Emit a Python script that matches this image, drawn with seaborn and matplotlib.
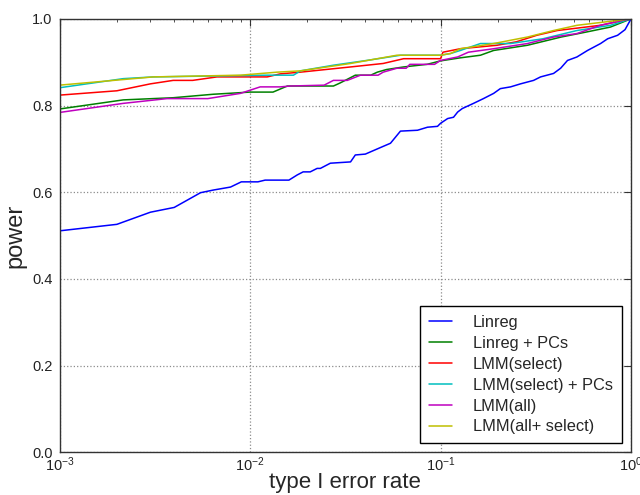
import matplotlib
matplotlib.use("Agg")
import matplotlib.pyplot as plt
import seaborn as sns
import pandas as pd
from matplotlib.ticker import LogLocator

# ---- data ----
methods = ["Linreg", "Linreg + PCs", "LMM(select)", "LMM(select) + PCs",
           "LMM(all)", "LMM(all+ select)"]
colors = ["#0000ff", "#008000", "#ff0000", "#00bfbf", "#bf00bf", "#bfbf00"]

linreg_x = [0.001, 0.002, 0.003, 0.004, 0.0055, 0.0064, 0.0079, 0.009, 0.011, 0.012,
            0.016, 0.0177, 0.019, 0.0207, 0.0225, 0.0234, 0.0264, 0.0337, 0.0357, 0.0403,
            0.0428, 0.0495, 0.0546, 0.0616, 0.0757, 0.0854, 0.0964, 0.1, 0.109, 0.117,
            0.123, 0.130, 0.149, 0.168, 0.190, 0.206, 0.233, 0.263, 0.308, 0.335,
            0.392, 0.427, 0.464, 0.52, 0.591, 0.692, 0.754, 0.85, 0.93, 0.98, 1.0]
linreg_y = [0.511, 0.526, 0.554, 0.565, 0.599, 0.605, 0.612, 0.624, 0.624, 0.628,
            0.628, 0.640, 0.647, 0.647, 0.655, 0.655, 0.667, 0.670, 0.686, 0.688,
            0.693, 0.705, 0.713, 0.741, 0.743, 0.750, 0.752, 0.759, 0.770, 0.773,
            0.785, 0.793, 0.805, 0.816, 0.828, 0.839, 0.843, 0.850, 0.858, 0.866,
            0.874, 0.886, 0.904, 0.912, 0.927, 0.943, 0.954, 0.962, 0.975, 0.993, 1.0]

linpc_x = [0.001, 0.00216, 0.00395, 0.0064, 0.01, 0.0132, 0.0157, 0.0274, 0.0297, 0.0357,
           0.043, 0.0466, 0.052, 0.064, 0.085, 0.1, 0.127, 0.162, 0.19, 0.286,
           0.43, 0.59, 0.78, 1.0]
linpc_y = [0.792, 0.813, 0.818, 0.826, 0.831, 0.831, 0.845, 0.845, 0.852, 0.870,
           0.870, 0.877, 0.883, 0.889, 0.895, 0.903, 0.910, 0.916, 0.927, 0.939,
           0.958, 0.970, 0.981, 1.0]

lmmsel_x = [0.001, 0.002, 0.003, 0.00395, 0.005, 0.0067, 0.0123, 0.0144, 0.0184, 0.0337,
            0.050, 0.064, 0.1, 0.103, 0.127, 0.198, 0.25, 0.32, 0.41, 0.69, 1.0]
lmmsel_y = [0.824, 0.834, 0.850, 0.858, 0.858, 0.866, 0.866, 0.873, 0.877, 0.889,
            0.897, 0.908, 0.908, 0.923, 0.931, 0.939, 0.947, 0.962, 0.973, 0.985, 1.0]

lmmselpc_x = [0.001, 0.00216, 0.0031, 0.0123, 0.0169, 0.0184, 0.0274, 0.041, 0.0616, 0.1,
              0.113, 0.127, 0.162, 0.233, 0.345, 0.52, 0.78, 1.0]
lmmselpc_y = [0.841, 0.862, 0.866, 0.870, 0.870, 0.880, 0.893, 0.904, 0.916, 0.916,
              0.920, 0.927, 0.943, 0.943, 0.954, 0.973, 0.985, 1.0]

lmmall_x = [0.001, 0.00216, 0.00367, 0.006, 0.0089, 0.0113, 0.0144, 0.0163, 0.0245, 0.0274,
            0.0324, 0.038, 0.047, 0.050, 0.059, 0.066, 0.069, 0.093, 0.1, 0.123,
            0.14, 0.19, 0.286, 0.392, 0.52, 0.69, 0.85, 1.0]
lmmall_y = [0.784, 0.805, 0.816, 0.816, 0.828, 0.843, 0.843, 0.845, 0.847, 0.858,
            0.858, 0.870, 0.870, 0.877, 0.886, 0.886, 0.895, 0.895, 0.904, 0.912,
            0.923, 0.931, 0.943, 0.958, 0.966, 0.985, 0.994, 1.0]

lmmallsel_x = [0.001, 0.0031, 0.0089, 0.0139, 0.0184, 0.0337, 0.059, 0.1, 0.113, 0.127,
               0.19, 0.286, 0.392, 0.52, 1.0]
lmmallsel_y = [0.847, 0.866, 0.870, 0.877, 0.880, 0.897, 0.916, 0.916, 0.920, 0.931,
               0.943, 0.958, 0.973, 0.985, 1.0]

x_ticks = [0.001, 0.01, 0.1, 1.0]
y_ticks = [0.0, 0.2, 0.4, 0.6, 0.8, 1.0]

series = [(linreg_x, linreg_y), (linpc_x, linpc_y), (lmmsel_x, lmmsel_y),
          (lmmselpc_x, lmmselpc_y), (lmmall_x, lmmall_y), (lmmallsel_x, lmmallsel_y)]
frames = []
for name, (xs, ys) in zip(methods, series):
    frames.append(pd.DataFrame({"alpha": xs, "power": ys, "method": name}))
df = pd.concat(frames, ignore_index=True)

# ---- style ----
sns.set_theme(style="white")
plt.rcParams["font.family"] = ["Liberation Sans", "DejaVu Sans"]
plt.rcParams["mathtext.fontset"] = "custom"
plt.rcParams["mathtext.rm"] = "Liberation Sans"
plt.rcParams["mathtext.it"] = "Liberation Sans:italic"

fig = plt.figure(figsize=(6.4, 4.95), dpi=100)
ax = fig.add_axes([0.093, 0.086, 0.893, 0.876])

sns.lineplot(data=df, x="alpha", y="power", hue="method", hue_order=methods,
             palette=dict(zip(methods, colors)), estimator=None, sort=False,
             units="method", linewidth=1.1, ax=ax)

ax.set_xscale("log")
ax.set_xlim(0.001, 1.0)
ax.set_ylim(0.0, 1.0)
ax.set_xticks(x_ticks)
ax.xaxis.set_minor_locator(LogLocator(base=10, subs=range(2, 10)))
ax.set_yticks(y_ticks)
ax.set_yticklabels([f"{v:.1f}" for v in y_ticks])

ax.grid(True, which="major", color="0.55", linestyle=":", linewidth=0.9)
ax.tick_params(which="both", direction="in", top=True, right=True,
               labelsize=10.5, colors="#333333", labelcolor="#222222")
ax.tick_params(which="major", length=5, width=0.8)
ax.tick_params(axis="x", which="major", pad=2)
ax.tick_params(axis="y", which="major", pad=5)
ax.tick_params(which="minor", length=2.5, width=0.6)
for s in ax.spines.values():
    s.set_color("#333333")
    s.set_linewidth(1.0)

ax.set_xlabel("type I error rate", fontsize=16, labelpad=-1)
ax.set_ylabel("power", fontsize=17, labelpad=4)

leg = ax.legend(loc="lower right", fontsize=11.8, frameon=True, fancybox=False,
                edgecolor="black", framealpha=1.0, handlelength=1.4,
                handletextpad=1.3, labelspacing=0.36, borderpad=0.55,
                borderaxespad=0.55)
leg.get_frame().set_linewidth(1.0)
for line in leg.get_lines():
    line.set_linewidth(1.1)

fig.savefig("out.png", dpi=100)
